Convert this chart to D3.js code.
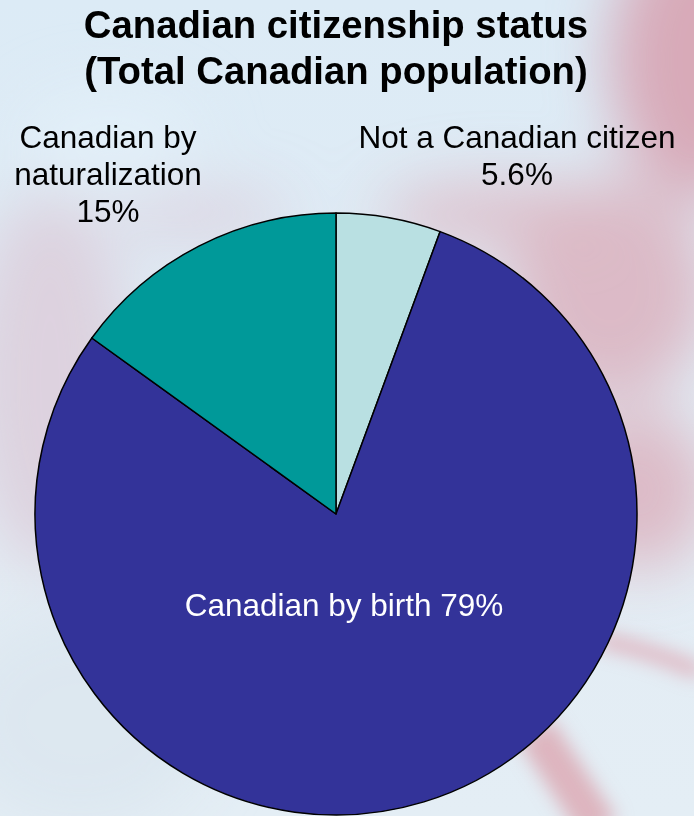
<!DOCTYPE html>
<html>
<head>
<meta charset="utf-8">
<script src="https://cdn.jsdelivr.net/npm/d3@7"></script>
<style>
  html, body { margin: 0; padding: 0; }
  body { width: 694px; height: 816px; overflow: hidden; }
  text { font-family: "Liberation Sans", Arial, sans-serif; }
</style>
</head>
<body>
<svg id="chart" width="694" height="816"></svg>
<script>
const categories = ["Not a Canadian citizen", "Canadian by birth", "Canadian by naturalization"];
const values = [5.6, 79, 15];
const valueLabels = ["5.6%", "79%", "15%"];
const colors = ["#b9e0e2", "#333399", "#009999"];
const titleLines = ["Canadian citizenship status", "(Total Canadian population)"];

const svg = d3.select("#chart");
const W = 694, H = 816;

// ---- background (blurred flag impression) ----
const defs = svg.append("defs");
function blurFilter(id, sd) {
  defs.append("filter").attr("id", id).attr("x", "-50%").attr("y", "-50%").attr("width", "200%").attr("height", "200%")
    .append("feGaussianBlur").attr("stdDeviation", sd);
}
blurFilter("blur", 30);
blurFilter("blur2", 9);
const bgGrad = defs.append("linearGradient").attr("id", "bgGrad").attr("x1", 0).attr("y1", 0).attr("x2", 0).attr("y2", 1);
bgGrad.append("stop").attr("offset", "0%").attr("stop-color", "#dcebf6");
bgGrad.append("stop").attr("offset", "65%").attr("stop-color", "#e3ecf4");
bgGrad.append("stop").attr("offset", "100%").attr("stop-color", "#e4eef5");

svg.append("rect").attr("width", W).attr("height", H).attr("fill", "url(#bgGrad)");
const bg = svg.append("g").attr("filter", "url(#blur)");
bg.append("ellipse").attr("cx", 700).attr("cy", 60).attr("rx", 90).attr("ry", 140).attr("fill", "#d7a3b1").attr("opacity", 0.9);
bg.append("ellipse").attr("cx", 610).attr("cy", 290).attr("rx", 100).attr("ry", 110).attr("fill", "#dab2be").attr("opacity", 0.85);
bg.append("ellipse").attr("cx", 640).attr("cy", 490).attr("rx", 70).attr("ry", 80).attr("fill", "#dbafbb").attr("opacity", 0.8);
bg.append("ellipse").attr("cx", 500).attr("cy", 215).attr("rx", 120).attr("ry", 35).attr("fill", "#dcbac6").attr("opacity", 0.8);
bg.append("ellipse").attr("cx", 50).attr("cy", 380).attr("rx", 80).attr("ry", 190).attr("fill", "#dccedb").attr("opacity", 0.85);
bg.append("ellipse").attr("cx", 200).attr("cy", 215).attr("rx", 90).attr("ry", 25).attr("fill", "#dccbd8").attr("opacity", 0.7);
bg.append("ellipse").attr("cx", 80).attr("cy", 720).attr("rx", 130).attr("ry", 110).attr("fill", "#dbe7f0").attr("opacity", 0.9);
bg.append("ellipse").attr("cx", 110).attr("cy", 140).attr("rx", 90).attr("ry", 50).attr("fill", "#e2f0f8").attr("opacity", 0.9);
const bg2 = svg.append("g").attr("filter", "url(#blur2)");
bg2.append("path").attr("d", "M535,730 L600,830").attr("stroke", "#dcaab5").attr("stroke-width", 40).attr("fill", "none").attr("opacity", 0.85);
bg2.append("path").attr("d", "M600,640 Q650,650 700,672").attr("stroke", "#ddaab5").attr("stroke-width", 16).attr("fill", "none").attr("opacity", 0.8);

// ---- title ----
titleLines.forEach((t, i) => {
  svg.append("text").attr("x", 336).attr("y", 38 + i * 46)
    .attr("text-anchor", "middle").attr("font-size", 38.3).attr("font-weight", "bold")
    .attr("fill", "#000").text(t);
});

// ---- pie ----
const cx = 336, cy = 514, r = 301;
const pie = d3.pie().sort(null).value(d => d.v);
const data = categories.map((c, i) => ({ c, v: values[i], col: colors[i], lab: valueLabels[i] }));
const arcs = pie(data);
const arc = d3.arc().innerRadius(0).outerRadius(r);
const g = svg.append("g").attr("transform", `translate(${cx},${cy})`);
g.selectAll("path").data(arcs).join("path")
  .attr("d", arc).attr("fill", d => d.data.col)
  .attr("stroke", "#000").attr("stroke-width", 1.5).attr("stroke-linejoin", "round");

// ---- labels ----
function multi(lines, x, y0, lh, size, fill) {
  lines.forEach((t, i) => {
    svg.append("text").attr("x", x).attr("y", y0 + i * lh)
      .attr("text-anchor", "middle").attr("font-size", size).attr("fill", fill).text(t);
  });
}
multi(["Canadian by", "naturalization", data[2].lab], 108, 148, 37, 31.5, "#000");
multi([data[0].c, data[0].lab], 517, 148, 37, 31.5, "#000");
multi([data[1].c + " " + data[1].lab], 344, 616, 0, 31.5, "#fff");
</script>
</body>
</html>
